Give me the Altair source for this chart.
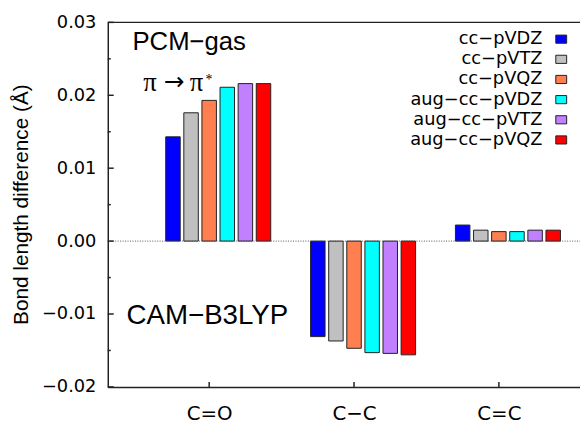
import json
import altair as alt
import pandas as pd

# ---- data ----
bonds = ["C=O", "C−C", "C=C"]
basis = ["cc−pVDZ", "cc−pVTZ", "cc−pVQZ", "aug−cc−pVDZ", "aug−cc−pVTZ", "aug−cc−pVQZ"]
colors = ["#0000ff", "#c0c0c0", "#ff7f50", "#00ffff", "#c080ff", "#ff0000"]
vals_co = [0.0143, 0.0176, 0.0193, 0.0211, 0.0216, 0.0216]
vals_cc = [-0.0131, -0.0137, -0.0147, -0.0153, -0.0154, -0.0156]
vals_ccd = [0.0022, 0.0015, 0.0013, 0.0013, 0.0015, 0.0015]
y_major = [-0.02, -0.01, 0.0, 0.01, 0.02, 0.03]
y_minor = [-0.015, -0.005, 0.005, 0.015, 0.025]
x_ticks = [0, 1, 2]

W, H = 478, 369
FONT = "DejaVu Sans"

rows = []
for bi, vals in enumerate([vals_co, vals_cc, vals_ccd]):
    for si, v in enumerate(vals):
        c = bi - 0.25 + 0.125 * si
        rows.append({"bond": bonds[bi], "basis": basis[si], "value": v,
                     "x0": c - 0.05, "x1": c + 0.05})
df = pd.DataFrame(rows)

xscale = alt.Scale(domain=[-0.7, 2.56], nice=False, zero=False)
yscale = alt.Scale(domain=[-0.02, 0.03], nice=False, zero=False)

x_axis = alt.Axis(values=x_ticks, labelExpr=f"{json.dumps(bonds)}[round(datum.value)]",
                  ticks=False, tickSize=0, grid=False, domain=True, domainColor="#222",
                  domainWidth=1.5, labelFont=FONT, labelFontSize=20, labelColor="black",
                  labelPadding=17, title=None)
y_axis = alt.Axis(values=y_major, format=".2f", ticks=False, tickSize=0, grid=False,
                  domain=True, domainColor="#222", domainWidth=1.5, labelFont=FONT,
                  labelFontSize=18, labelColor="black", labelPadding=12, title=None)

color = alt.Color("basis:N", scale=alt.Scale(domain=basis, range=colors), legend=None)

bars = alt.Chart(df).mark_rect(stroke="#222", strokeWidth=1).encode(
    x=alt.X("x0:Q", scale=xscale, axis=x_axis),
    x2="x1",
    y=alt.Y("value:Q", scale=yscale, axis=y_axis),
    y2=alt.datum(0),
    color=color,
)

zero = alt.Chart(pd.DataFrame({"v": [0.0]})).mark_rule(
    strokeDash=[1, 1.5], color="#555", strokeWidth=1
).encode(y=alt.Y("v:Q", scale=yscale, axis=y_axis), x=alt.value(0), x2=alt.value(W))

one = pd.DataFrame({"a": [0]})
top = alt.Chart(one).mark_rule(color="#222", strokeWidth=1.5).encode(
    y=alt.value(0), x=alt.value(0), x2=alt.value(W))

ymaj = alt.Chart(pd.DataFrame({"v": y_major})).mark_rule(color="#222", strokeWidth=1.5).encode(
    y=alt.Y("v:Q", scale=yscale, axis=y_axis), x=alt.value(0), x2=alt.value(6))
ymin = alt.Chart(pd.DataFrame({"v": y_minor})).mark_rule(color="#222", strokeWidth=1.5).encode(
    y=alt.Y("v:Q", scale=yscale, axis=y_axis), x=alt.value(0), x2=alt.value(3))
xt = alt.Chart(pd.DataFrame({"i": x_ticks})).mark_rule(color="#222", strokeWidth=1.5).encode(
    x=alt.X("i:Q", scale=xscale, axis=x_axis), y=alt.value(H), y2=alt.value(H - 5))


def label(txt, x, y, font, size, **kw):
    return alt.Chart(one).mark_text(text=txt, font=font, fontSize=size, align="left",
                                    baseline="alphabetic", color="black", **kw).encode(
        x=alt.value(x), y=alt.value(y))


pcm = label("PCM−gas", 25, 28, "Liberation Sans", 26)
cam = label("CAM−B3LYP", 19, 305, "Liberation Sans", 28)
pi1 = label("π", 36, 69, "Liberation Serif", 27)
arrow = label("\u2192", 57, 68, "DejaVu Sans", 25)
pi2 = label("π", 83, 69, "Liberation Serif", 27)
star = label("*", 99, 62, "Liberation Serif", 14)
ytitle = alt.Chart(one).mark_text(text="Bond length difference (Å)", font="Liberation Sans",
                                  fontSize=21, angle=270, align="center", baseline="middle",
                                  color="black").encode(x=alt.value(-87), y=alt.value(H / 2))

inner = alt.layer(bars, zero, top, ymaj, ymin, xt, pcm, cam, pi1, arrow, pi2, star, ytitle)

leg_df = pd.DataFrame({"basis": basis})
leg_y = alt.Y("basis:N", sort=basis,
              scale=alt.Scale(type="point", domain=basis, range=[17, 119], padding=0),
              axis=None)
leg_text = alt.Chart(leg_df).mark_text(align="right", baseline="middle", font=FONT,
                                       fontSize=18, color="black").encode(
    y=leg_y, x=alt.value(440), text="basis:N")
leg_pts = alt.Chart(leg_df).mark_point(shape="M-1,-0.75L1,-0.75L1,0.75L-1,0.75Z", filled=True,
                                       size=121, stroke="#222", strokeWidth=1,
                                       opacity=1).encode(
    y=leg_y, x=alt.value(459), color=color)

chart = alt.layer(inner, leg_text, leg_pts).resolve_scale(y="independent").properties(
    width=W, height=H,
    autosize=alt.AutoSizeParams(type="none"),
    padding={"left": 101, "top": 12, "right": 0, "bottom": 36},
    background="white",
).configure_view(stroke=None)

chart.save("out.html", embed_options={"renderer": "svg", "actions": False})
